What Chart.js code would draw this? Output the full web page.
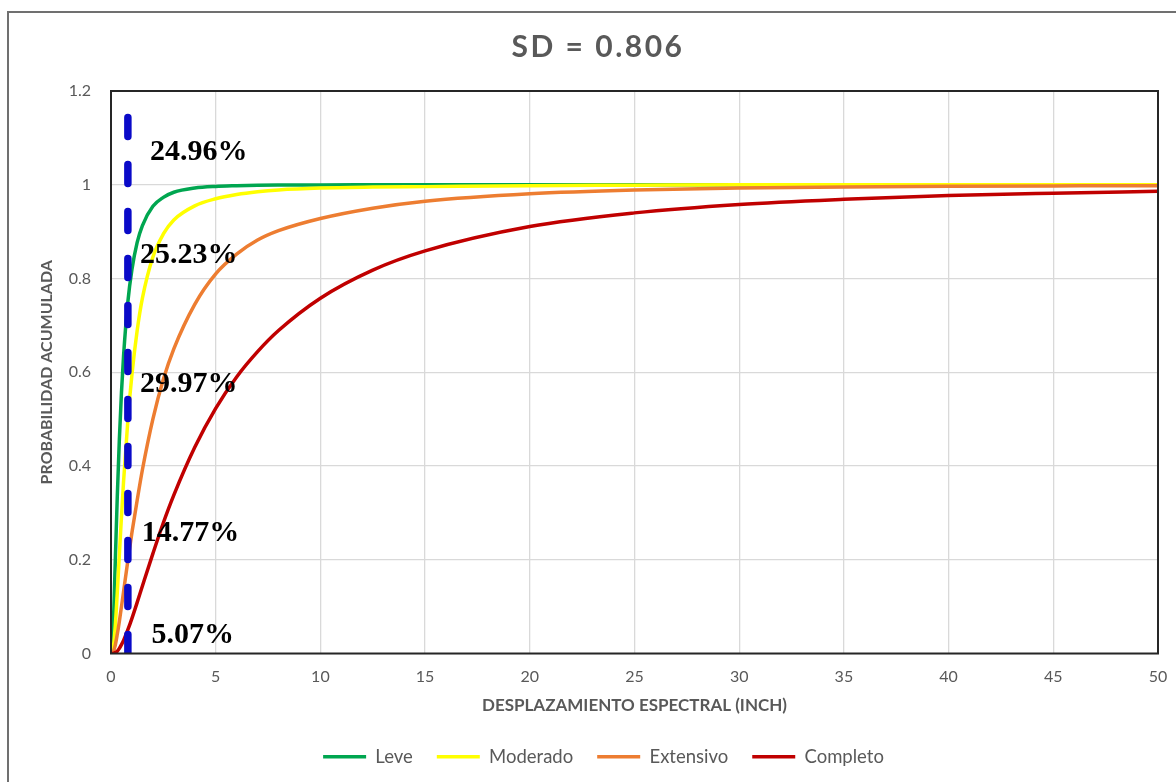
<!DOCTYPE html>
<html>
<head>
<meta charset="utf-8">
<title>Curvas de fragilidad - SD = 0.806</title>
<script src="https://cdn.jsdelivr.net/npm/chart.js@4.4.1/dist/chart.umd.min.js"></script>
<style>
  html, body { margin: 0; padding: 0; background: #fff; overflow: hidden; }
  #wrap { position: relative; width: 1176px; height: 782px; overflow: hidden; }
  #wrap canvas { position: absolute; left: 0; top: 0; }
  /* marco exterior del gráfico */
  #marco { position: absolute; left: 7px; top: 11px; width: 1400px; height: 1000px;
           border-left: 2px solid #707070; border-top: 2px solid #707070; pointer-events: none; }
</style>
</head>
<body>
<div id="wrap">
  <canvas id="fragilidad" width="1196" height="782"></canvas>
  <div id="marco"></div>
</div>
<script>
// ------------------------------------------------------------
// Curvas de fragilidad (probabilidad acumulada vs Sd)
// ------------------------------------------------------------

var sdValor = 0.806;

// desplazamiento espectral (inch) de cada punto leído
var sdPuntos  = [0, 0.1, 0.2, 0.3, 0.4, 0.5, 0.6, 0.806, 1, 1.25, 1.5, 2, 2.5, 3, 4, 5, 6, 7, 8, 10, 12.5, 15, 20, 25, 30, 35, 40, 45, 50];

var leve      = [0, 0.050, 0.190, 0.335, 0.458, 0.557, 0.635, 0.7504, 0.819, 0.877, 0.913, 0.954, 0.973, 0.984, 0.993, 0.9965, 0.998, 0.999, 0.9994, 0.9997, 0.9999, 1, 1, 1, 1, 1, 1, 1, 1];
var moderado  = [0, 0.009, 0.056, 0.130, 0.212, 0.292, 0.367, 0.4981, 0.595, 0.689, 0.758, 0.846, 0.895, 0.925, 0.955, 0.970, 0.979, 0.985, 0.989, 0.993, 0.995, 0.996, 0.998, 0.999, 1, 1, 1, 1, 1];
var extensivo = [0, 0.003, 0.017, 0.041, 0.069, 0.100, 0.132, 0.1984, 0.258, 0.327, 0.392, 0.500, 0.585, 0.650, 0.745, 0.810, 0.852, 0.882, 0.902, 0.928, 0.950, 0.965, 0.981, 0.989, 0.993, 0.995, 0.9966, 0.9975, 0.998];
var completo  = [0, 0.0002, 0.002, 0.005, 0.011, 0.019, 0.028, 0.0507, 0.075, 0.109, 0.144, 0.213, 0.279, 0.338, 0.440, 0.523, 0.590, 0.644, 0.689, 0.758, 0.818, 0.859, 0.911, 0.940, 0.958, 0.969, 0.977, 0.982, 0.986];

var estados = ['Leve', 'Moderado', 'Extensivo', 'Completo'];
var colores = ['#00A650', '#FFFF00', '#ED7D31', '#C00000'];

// probabilidad de cada estado de daño en Sd = 0.806 (de arriba hacia abajo)
var etiquetas = ['24.96%', '25.23%', '29.97%', '14.77%', '5.07%'];

function puntos(ys) {
  return sdPuntos.map(function(x, i) { return { x: x, y: ys[i] }; });
}

Chart.defaults.font.family = 'Lato, "Open Sans", sans-serif';
Chart.defaults.color = '#595959';

// título, marco del área de trazado y porcentajes junto a la línea de Sd
var rotulosSD = {
  id: 'rotulosSD',
  afterDatasetsDraw: function(chart, args, opts) {
    var ctx = chart.ctx, a = chart.chartArea;
    var sx = chart.scales.x, sy = chart.scales.y;
    ctx.save();
    ctx.strokeStyle = '#262626';
    ctx.lineWidth = 2;
    ctx.strokeRect(a.left, a.top, a.right - a.left, a.bottom - a.top);

    ctx.font = 'bold 30px "Liberation Serif", serif';
    ctx.fillStyle = '#000';
    ctx.textAlign = 'left';
    ctx.textBaseline = 'middle';
    etiquetas.forEach(function(t, i) {
      var p = opts.pos[i];
      ctx.fillText(t, sx.getPixelForValue(p[0]), sy.getPixelForValue(p[1]));
    });
    ctx.restore();
  },
  afterDraw: function(chart, args, opts) {
    var ctx = chart.ctx;
    ctx.save();
    ctx.font = 'bold 30px Lato, sans-serif';
    ctx.letterSpacing = '2.5px';
    ctx.fillStyle = '#595959';
    ctx.textAlign = 'center';
    ctx.textBaseline = 'middle';
    ctx.fillText(opts.titulo, chart.width / 2, 47);
    ctx.restore();
  }
};

var datasets = [leve, moderado, extensivo, completo].map(function(ys, i) {
  return {
    label: estados[i],
    data: puntos(ys),
    borderColor: colores[i],
    backgroundColor: colores[i],
    borderWidth: 3.5,
    pointRadius: 0,
    cubicInterpolationMode: 'monotone',
    order: 5 - i
  };
});

datasets.push({
  label: 'Sd',
  data: [{ x: sdValor, y: 0 }, { x: sdValor, y: 1.2 }],
  borderColor: '#0A0AC8',
  borderWidth: 7.5,
  borderDash: [19, 28],
  borderCapStyle: 'round',
  pointRadius: 0,
  order: 0
});

var ctx = document.getElementById('fragilidad').getContext('2d');
var grafico = new Chart(ctx, {
  type: 'line',
  data: { datasets: datasets },
  plugins: [rotulosSD],
  options: {
    responsive: false,
    animation: false,
    devicePixelRatio: 1,
    events: [],
    layout: { padding: { left: 49, right: 38, top: 91, bottom: 6 } },
    plugins: {
      tooltip: { enabled: false },
      title: { display: false },
      rotulosSD: {
        titulo: 'SD = ' + sdValor,
        pos: [[1.86, 1.07], [1.385, 0.85], [1.385, 0.574], [1.47, 0.256], [1.94, 0.038]]
      },
      legend: {
        position: 'bottom',
        labels: {
          usePointStyle: true,
          pointStyle: 'line',
          pointStyleWidth: 43,
          padding: 24,
          color: '#595959',
          font: { size: 18.5 },
          filter: function(item) { return item.datasetIndex < 4; },
          sort: function(a, b) { return a.datasetIndex - b.datasetIndex; }
        }
      }
    },
    scales: {
      x: {
        type: 'linear',
        min: 0, max: 50,
        afterFit: function(scale) { scale.height = 70; },
        ticks: { stepSize: 5, padding: 14, color: '#595959', font: { size: 16 } },
        grid: { color: '#D9D9D9', lineWidth: 1.3, drawTicks: false },
        border: { display: false },
        title: {
          display: true,
          text: 'DESPLAZAMIENTO ESPECTRAL (INCH)',
          color: '#595959',
          font: { size: 17, weight: 'bold' },
          padding: { top: 0, bottom: 8 }
        }
      },
      y: {
        min: 0, max: 1.2,
        afterFit: function(scale) { scale.width = 62; },
        ticks: {
          stepSize: 0.2, padding: 20, color: '#595959', font: { size: 16 },
          callback: function(v) { return String(Math.round(v * 10) / 10); }
        },
        grid: { color: '#D9D9D9', lineWidth: 1.3, drawTicks: false },
        border: { display: false },
        title: {
          display: true,
          text: 'PROBABILIDAD ACUMULADA',
          color: '#595959',
          font: { size: 16, weight: 'bold' },
          padding: { top: -12, bottom: 0 }
        }
      }
    }
  }
});
</script>
</body>
</html>
